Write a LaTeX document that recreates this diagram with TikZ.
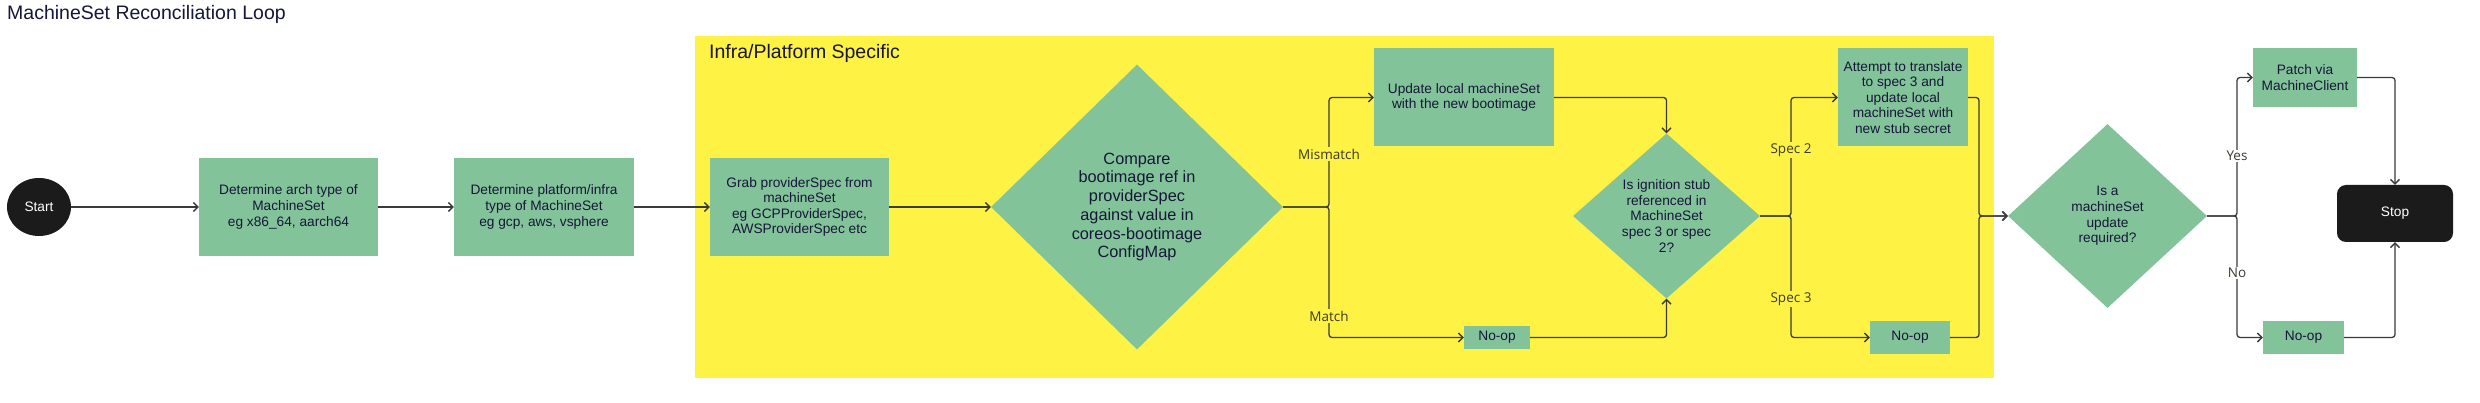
\documentclass[tikz,border=0pt]{standalone}
\usepackage{fontspec}
\setmainfont{Liberation Sans}
\newfontfamily\lblfont{Open Sans}
\usetikzlibrary{shapes.geometric,arrows.meta}
\definecolor{gbox}{HTML}{83C39A}
\definecolor{ybg}{HTML}{FEF245}
\definecolor{ink}{HTML}{161638}
\definecolor{dark}{HTML}{1B1B1B}
\definecolor{wire}{HTML}{3A3A3A}
\definecolor{lbltxt}{HTML}{3A3A30}
\tikzset{
  boxn/.style={rectangle, fill=gbox, inner sep=0pt, align=center, text=ink,
    font=\fontsize{13.7}{15.6}\selectfont},
  dian/.style={diamond, fill=gbox, inner sep=0pt, align=center, text=ink,
    font=\fontsize{13.7}{15.6}\selectfont},
  arr/.style={draw=wire, line width=1.3pt, rounded corners=3pt,
    -{Straight Barb[length=4.5pt,width=9pt,line width=1.3pt]}},
  lbl/.style={font=\lblfont\fontsize{13.5}{15}\selectfont, text=lbltxt,
    fill=ybg, inner sep=1.5pt},
}
\begin{document}
\begin{tikzpicture}[x=1pt,y=-1pt]
\useasboundingbox (0,0) rectangle (2480,403);
\fill[white] (0,0) rectangle (2480,403);

\node[anchor=base west, inner sep=0pt, text=ink, font=\fontsize{19.5}{22}\selectfont] (title) at (7,19.5) {MachineSet Reconciliation Loop};

\node[fill=ybg, anchor=north west, inner sep=0pt, minimum width=1299pt, minimum height=342pt] (zone) at (695,36) {};
\node[anchor=base west, inner sep=0pt, text=ink, font=\fontsize{19.5}{22}\selectfont] (zonetitle) at (709,59) {Infra/Platform Specific};

% nodes
\node[ellipse, fill=dark, text=white, inner sep=0pt, minimum width=64pt, minimum height=58pt, font=\fontsize{13.7}{15.6}\selectfont] (start) at (39,207) {Start};
\node[boxn, minimum width=179pt, minimum height=98pt] (arch) at (288.5,207) {Determine arch type of\\MachineSet\\eg x86\_64, aarch64};
\node[boxn, minimum width=180pt, minimum height=98pt] (plat) at (544,207) {Determine platform/infra\\type of MachineSet\\eg gcp, aws, vsphere};
\node[boxn, minimum width=179pt, minimum height=98pt] (grab) at (799.5,207) {Grab providerSpec from\\machineSet\\eg GCPProviderSpec,\\AWSProviderSpec etc};
\node[dian, aspect=1.025, minimum width=292pt, minimum height=285pt, font=\fontsize{16.3}{18.7}\selectfont] (cmp) at (1137,207) {Compare\\bootimage ref in\\providerSpec\\against value in\\coreos-bootimage\\ConfigMap};
\node[boxn, minimum width=180pt, minimum height=98pt] (upd) at (1464,97.5) {Update local machineSet\\with the new bootimage};
\node[boxn, minimum width=66pt, minimum height=23pt] (noopa) at (1497,337.5) {No-op};
\node[dian, aspect=1.133, minimum width=187pt, minimum height=165pt] (ign) at (1666.5,216) {Is ignition stub\\referenced in\\MachineSet\\spec 3 or spec\\2?};
\node[boxn, minimum width=130pt, minimum height=98pt] (att) at (1903,97.5) {Attempt to translate\\to spec 3 and\\update local\\machineSet with\\new stub secret};
\node[boxn, minimum width=80pt, minimum height=33pt] (noopb) at (1910,337.5) {No-op};
\node[dian, aspect=1.08, minimum width=199pt, minimum height=184pt] (req) at (2107.5,216) {Is a\\machineSet\\update\\required?};
\node[boxn, minimum width=104pt, minimum height=59pt] (patch) at (2305,77.5) {Patch via\\MachineClient};
\node[boxn, minimum width=81pt, minimum height=33pt] (noopc) at (2303.5,337.5) {No-op};
\node[rectangle, rounded corners=9pt, fill=dark, text=white, inner sep=0pt, minimum width=116pt, minimum height=57pt, font=\fontsize{13.7}{15.6}\selectfont] (stop) at (2395,213.5) {Stop};

% junctions
\coordinate (ja) at (1329,207);
\coordinate (jb) at (1791,216);
\coordinate (jc) at (1979,216);
\coordinate (jd) at (2237,216);

% connectors
\draw[arr] (start) -- (arch);
\draw[arr] (arch) -- (plat);
\draw[arr] (plat) -- (grab);
\draw[arr] (grab) -- (cmp);
\draw[arr] (cmp.east) -- (ja) |- (upd.west);
\draw[arr] (cmp.east) -- (ja) |- (noopa.west);
\draw[arr] (upd.east) -| (ign.north);
\draw[arr] (noopa.east) -| (ign.south);
\draw[arr] (ign.east) -- (jb) |- (att.west);
\draw[arr] (ign.east) -- (jb) |- (noopb.west);
\draw[arr] (att.east) -| (jc) -- (req.west);
\draw[arr] (noopb.east) -| (jc) -- (req.west);
\draw[arr] (req.east) -- (jd) |- (patch.west);
\draw[arr] (req.east) -- (jd) |- (noopc.west);
\draw[arr] (patch.east) -| (stop.north);
\draw[arr] (noopc.east) -| (stop.south);

% labels
\node[lbl] (lmis) at (1329,154) {Mismatch};
\node[lbl] (lmat) at (1329,316) {Match};
\node[lbl] (ls2) at (1791,150) {Spec 2};
\node[lbl] (ls3) at (1791,299) {Spec 3};
\node[lbl, fill=white] (lyes) at (2237,156) {Yes};
\node[lbl, fill=white] (lno) at (2237,273) {No};
\end{tikzpicture}
\end{document}
